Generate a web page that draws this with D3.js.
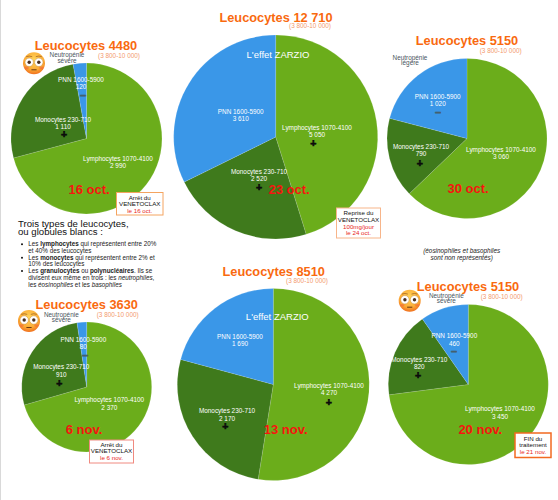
<!DOCTYPE html>
<html><head><meta charset="utf-8">
<style>html,body{margin:0;padding:0;background:#fff}svg{display:block}text{font-family:"Liberation Sans",Arial,sans-serif}</style>
<script src="https://cdn.jsdelivr.net/npm/d3@7"></script></head>
<body><svg id="c" width="558" height="500"></svg>
<script>
const categories = ["Lymphocytes 1070-4100", "Monocytes 230-710", "PNN 1600-5900"];
const totals = ["4480", "12 710", "5150", "3630", "8510", "5150"];
const dates = ["16 oct.", "23 oct.", "30 oct.", "6 nov.", "13 nov.", "20 nov."];
const lymphocytes = [2990, 5050, 3060, 2370, 4270, 3450];
const monocytes = [1110, 2520, 790, 910, 2170, 820];
const pnn = [120, 3610, 1020, 80, 1690, 460];
const refRange = "(3 800-10 000)";
const colors = ["#6BAD1B", "#3F7A1C", "#3A97E8"];

// page layout of each panel (pie centre/radius and label anchors)
const layout = [
 {cx:86.5,cy:138.5,r:75.5,title:[86,50],range:[119,58],date:[89,194],
  lab:[[118,161],[63,122],[81,81.5]],sign:[null,["+",64,134],["−",82.7,95]],
  neutro:{pos:[67,57],lines:["Neutropénie","sévère"],dy:5.6},emoji:[34,63.3]},
 {cx:275.7,cy:137,r:102,title:[276,22],range:[310,27.5],date:[289,193.7],zarzio:[278,58],
  lab:[[317,129.5],[259,173.5],[240.7,113.7]],sign:[["+",313.3,143],["+",259,187.7],null]},
 {cx:467,cy:138.5,r:80,title:[467,45],range:[500.7,52.7],date:[468,193.3],
  lab:[[501,151.7],[421,149],[437.7,98.7]],sign:[null,["+",419.7,163],["−",437.7,112]],
  neutro:{pos:[410,60],lines:["Neutropénie","légère"],dy:5.4}},
 {cx:86.7,cy:387,r:65,title:[86.7,309],range:[117.7,317.3],date:[84,434.3],
  lab:[[109.3,402.3],[61.3,369.3],[83.3,342]],sign:[null,["+",59.3,383],["−",84.7,355]],
  neutro:{pos:[61.3,317],lines:["Neutropénie","sévère"],dy:5.4},emoji:[29,321]},
 {cx:273.3,cy:384.5,r:96,title:[273.7,275.7],range:[307,282.7],date:[285.7,434.3],zarzio:[277.3,320.3],
  lab:[[329,387.7],[227,413.3],[240,339]],sign:[["+",328.7,402],["+",225.3,426.7],null]},
 {cx:468.3,cy:384.5,r:80,title:[468,291],range:[501.7,299.3],date:[480.3,434.3],
  lab:[[500,411.3],[419.3,361.7],[454.3,338.3]],sign:[null,["+",418,375.3],["−",453.7,351]],
  neutro:{pos:[446.3,297.7],lines:["Neutropénie","sévère"],dy:4.8},emoji:[409.7,300.7]}
];

const boxes = [
 {x:116.5,y:192.5,w:46.5,h:22.5,stroke:"#F4A460",sw:1,base:199.5,step:6.6,lines:[["Arrêt du","#111"],["VENETOCLAX","#111"],["le 16 oct.","#E8261C"]]},
 {x:336.5,y:208,w:44,h:30,stroke:"#F7B58A",sw:1,base:214.7,step:6.9,lines:[["Reprise du","#111"],["VENETOCLAX","#111"],["100mg/jour","#E8261C"],["le 24 oct.","#E8261C"]]},
 {x:89.5,y:440,w:44,h:23,stroke:"#F08A80",sw:1,base:446.7,step:6.7,lines:[["Arrêt du","#111"],["VENETOCLAX","#111"],["le 6 nov.","#E8261C"]]},
 {x:515,y:433,w:36,h:24.5,stroke:"#F26A21",sw:1.5,base:440.7,step:6.7,lines:[["FIN du","#111"],["traitement","#111"],["le 21 nov.","#E8261C"]]}
];

const svg = d3.select("#c");
svg.append("rect").attr("x",0).attr("y",0).attr("width",1).attr("height",500).attr("fill","#d9d9d9");

const defs = svg.append("defs");
const eg = defs.append("radialGradient").attr("id","face").attr("cx","50%").attr("cy","35%").attr("r","65%");
eg.append("stop").attr("offset","0%").attr("stop-color","#FFD65A");
eg.append("stop").attr("offset","70%").attr("stop-color","#FBAA35");
eg.append("stop").attr("offset","100%").attr("stop-color","#F0701E");

const pie = d3.pie().sort(null).startAngle(0).endAngle(2*Math.PI);

function txt(x,y,s,size,fill,opts={}){
  return svg.append("text").attr("x",x).attr("y",y).attr("text-anchor",opts.anchor||"middle")
    .attr("font-size",size).attr("fill",fill).attr("font-weight",opts.bold?"bold":null)
    .attr("font-style",opts.italic?"italic":null).text(s);
}
function emoji(x,y){
  const g = svg.append("g").attr("transform",`translate(${x},${y})`);
  g.append("circle").attr("r",11).attr("fill","url(#face)");
  [-4.8,4.8].forEach(dx=>{
    g.append("circle").attr("cx",dx).attr("cy",-1).attr("r",4.2).attr("fill","#fff").attr("stroke","#B8741C").attr("stroke-width",.4);
    g.append("circle").attr("cx",dx).attr("cy",-1).attr("r",1.7).attr("fill","#4A3020");
    g.append("path").attr("d",`M${dx-3},-6.6Q${dx},-7.9 ${dx+3},-6.6`).attr("fill","none").attr("stroke","#8A4A18").attr("stroke-width",.6);
  });
  g.append("rect").attr("x",-2.6).attr("y",6).attr("width",5.2).attr("height",1).attr("fill","#6A3A14");
  [-7.4,7.4].forEach(dx=>g.append("ellipse").attr("cx",dx).attr("cy",4.6).attr("rx",2.2).attr("ry",1.3).attr("fill","#F0653A").attr("opacity",.55));
}

layout.forEach((L,i)=>{
  const values=[lymphocytes[i],monocytes[i],pnn[i]];
  const arc=d3.arc().innerRadius(0).outerRadius(L.r);
  svg.append("g").attr("transform",`translate(${L.cx},${L.cy})`)
    .selectAll("path").data(pie(values)).join("path")
    .attr("d",arc).attr("fill",(d,k)=>colors[k]).attr("stroke","#fff").attr("stroke-opacity",.25).attr("stroke-width",.5);

  txt(L.title[0],L.title[1],"Leucocytes "+totals[i],12.8,"#F96A0F",{bold:true});
  txt(L.range[0],L.range[1],refRange,6.4,"#F39A6E");
  txt(L.date[0],L.date[1],dates[i],13,"#F5150F",{bold:true});
  if(L.zarzio) txt(L.zarzio[0],L.zarzio[1],"L'effet ZARZIO",9.5,"#fff");
  categories.forEach((c,k)=>{
    const [x,y]=L.lab[k];
    txt(x,y,c,6.4,"#fff");
    txt(x,y+7.4,d3.format(",")(values[k]).replace(",", " "),6.4,"#fff");
    const s=L.sign[k];
    if(s){
      const plus=s[0]==="+";
      const col=plus?"#0b0b0b":"#44606e";
      txt(s[1],s[2]+3.6,s[0],10.5,col,{bold:true}).attr("stroke",col).attr("stroke-width",.6);
    }
  });
  if(L.neutro) L.neutro.lines.forEach((t,k)=>txt(L.neutro.pos[0],L.neutro.pos[1]+k*L.neutro.dy,t,6.4,"#4A5560"));
  if(L.emoji) emoji(L.emoji[0],L.emoji[1]);
});

boxes.forEach(b=>{
  svg.append("rect").attr("x",b.x).attr("y",b.y).attr("width",b.w).attr("height",b.h)
    .attr("fill","#fff").attr("stroke",b.stroke).attr("stroke-width",b.sw);
  b.lines.forEach(([t,col],k)=>txt(b.x+b.w/2,b.base+k*b.step,t,6.2,col));
});

// explanatory block
txt(18,227.2,"Trois types de leucocytes,",9.6,"#111",{anchor:"start"});
txt(18,235.2,"ou globules blancs :",9.6,"#111",{anchor:"start"});
const listLines=[
 [true,[["Les ",0,0],["lymphocytes",1,0],[" qui représentent entre 20%",0,0]]],
 [false,[["et 40% des leucocytes",0,0]]],
 [true,[["Les ",0,0],["monocytes",1,0],[" qui représentent entre 2% et",0,0]]],
 [false,[["10% des leucocytes",0,0]]],
 [true,[["Les ",0,0],["granulocytes",1,0],[" ou ",0,0],["polynucléaires",1,0],[". Ils se",0,0]]],
 [false,[["divisent eux même en trois : les ",0,0],["neutrophiles",0,1],[",",0,0]]],
 [false,[["les ",0,0],["éosinophiles",0,1],[" et les ",0,0],["basophiles",0,1]]]
];
listLines.forEach(([bullet,runs],k)=>{
  const y=246.3+k*6.7;
  if(bullet) svg.append("circle").attr("cx",22).attr("cy",y-2).attr("r",1).attr("fill","#111");
  const t=svg.append("text").attr("x",28.3).attr("y",y).attr("font-size",6.3).attr("fill","#222");
  runs.forEach(([s,b,it])=>t.append("tspan").attr("font-weight",b?"bold":null).attr("font-style",it?"italic":null).text(s));
});
txt(461.7,253,"(éosinophiles et basophiles",6.4,"#222",{italic:true});
txt(461.7,259.7,"sont non représentés)",6.4,"#222",{italic:true});
</script></body></html>
